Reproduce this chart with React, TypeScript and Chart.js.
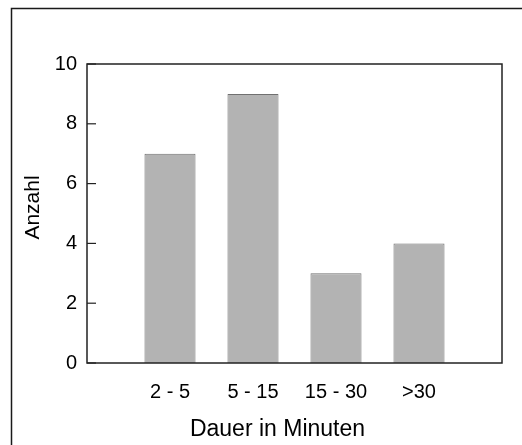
import React, { useEffect, useRef } from 'react';
import { Chart, registerables } from 'chart.js';

Chart.register(...registerables);

const categories = ['2 - 5', '5 - 15', '15 - 30', '>30'];
const counts = [7, 9, 3, 4];
const yTickValues = [0, 2, 4, 6, 8, 10];
const xTitle = 'Dauer in Minuten';
const yTitle = 'Anzahl';

const FONT = "'Liberation Sans', Arial, Helvetica, sans-serif";

export default function App() {
  const ref = useRef<HTMLCanvasElement>(null);

  useEffect(() => {
    if (!ref.current) return;
    const labels = ['', ...categories, ''];
    const data = [null, ...counts, null];

    const framePlugin = {
      id: 'frame',
      beforeDraw(chart: any) {
        const ctx = chart.ctx;
        ctx.save();
        ctx.fillStyle = '#ffffff';
        ctx.fillRect(0, 0, chart.width, chart.height);
        ctx.strokeStyle = '#1a1a1a';
        ctx.lineWidth = 1.5;
        ctx.beginPath();
        ctx.moveTo(11.5, chart.height + 10);
        ctx.lineTo(11.5, 8.5);
        ctx.lineTo(chart.width + 10, 8.5);
        ctx.stroke();
        ctx.restore();
      },
      afterDatasetsDraw(chart: any) {
        const { ctx, chartArea: a, scales } = chart;
        const y = scales.y;
        ctx.save();
        ctx.strokeStyle = '#222222';
        ctx.lineWidth = 1.5;
        ctx.strokeRect(a.left, a.top, a.right - a.left, a.bottom - a.top);
        ctx.lineWidth = 1.2;
        y.ticks.forEach((t: any) => {
          const py = y.getPixelForValue(t.value);
          ctx.beginPath();
          ctx.moveTo(a.left, py);
          ctx.lineTo(a.left + 9, py);
          ctx.stroke();
        });
        // axis titles
        ctx.fillStyle = '#000';
        ctx.textAlign = 'center';
        ctx.textBaseline = 'middle';
        ctx.font = `23px ${FONT}`;
        const cx = (a.left + a.right) / 2;
        ctx.fillText(xTitle, cx - 17, chart.height - 15);
        ctx.font = `21px ${FONT}`;
        const cy = (a.top + a.bottom) / 2;
        ctx.translate(33, cy - 6);
        ctx.rotate(-Math.PI / 2);
        ctx.fillText(yTitle, 0, 0);
        ctx.restore();
      },
    };

    const chart = new Chart(ref.current, {
      type: 'bar',
      data: {
        labels,
        datasets: [
          {
            data,
            backgroundColor: '#b3b3b3',
            borderColor: '#707070',
            borderWidth: 1,
            barPercentage: 0.615,
            categoryPercentage: 1,
          },
        ],
      },
      options: {
        responsive: false,
        animation: false,
        devicePixelRatio: 1,
        layout: { padding: { top: 64, right: 20, bottom: 0, left: 0 } },
        plugins: {
          legend: { display: false },
          tooltip: { enabled: false },
        },
        scales: {
          x: {
            type: 'category',
            offset: false,
            grid: { display: false, drawTicks: false },
            border: { display: false },
            ticks: {
              padding: 17,
              color: '#000',
              autoSkip: false,
              maxRotation: 0,
              font: { family: FONT, size: 20 },
            },
            title: { display: false },
            afterFit: (s: any) => {
              s.height = 82;
            },
          },
          y: {
            min: 0,
            max: 10,
            grid: { display: false, drawTicks: false },
            border: { display: false },
            ticks: {
              stepSize: 2,
              padding: 10,
              color: '#000',
              font: { family: FONT, size: 20 },
            },
            afterBuildTicks: (s: any) => {
              s.ticks = yTickValues.map((v) => ({ value: v }));
            },
            title: { display: false },
            afterFit: (s: any) => {
              s.width = 87;
            },
          },
        },
      },
      plugins: [framePlugin],
    } as any);

    return () => chart.destroy();
  }, []);

  return (
    <div style={{ position: 'absolute', left: 0, top: 0, width: 522, height: 445 }}>
      <canvas ref={ref} width={522} height={445} style={{ display: 'block' }} />
    </div>
  );
}
